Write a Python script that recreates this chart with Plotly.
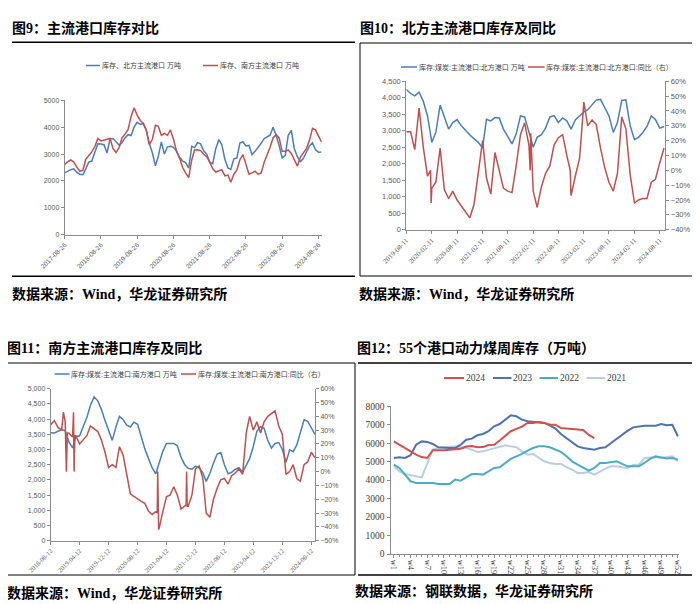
import pandas as pd
import plotly.graph_objects as go

# ---------------- data ----------------
# Fig 9: north / south mainstream port stocks (monthly samples from 2017-08-26)
c1_start = "2017-08-26"
c1_north = [2300, 2370, 2420, 2450, 2320, 2250, 2230, 2450, 2700, 2740,
            3040, 3380, 3370, 3350, 3040, 3560, 3580, 3440, 3330, 3420,
            3600, 3720, 3690, 4000, 4180, 4110, 4130, 3900, 3400, 3050,
            2560, 2920, 3450, 3000, 3270, 3290, 3250, 3100, 2880, 2740,
            2680, 2480, 3290, 3240, 3420, 3380, 3120, 3000, 2700, 2640,
            3200, 3540, 3350, 2800, 2480, 2430, 2820, 2850, 3410, 3460,
            3300, 3320, 2980, 3100, 3230, 3400, 3580, 3650, 3700, 4000,
            3700, 3320, 2860, 2950, 3700, 3880, 3200, 2900, 2720, 2830,
            3080, 3300, 3420, 3160, 3070, 3080]
c1_south = [2610, 2720, 2780, 2700, 2520, 2360, 2400, 2800, 2950, 3080,
            3280, 3580, 3490, 3530, 3540, 3580, 3200, 3060, 3250, 3600,
            3740, 3910, 4400, 4720, 4450, 4250, 4150, 3880, 3350, 3550,
            4070, 4030, 3700, 3770, 3700, 3900, 3550, 3100, 2850, 2500,
            2300, 2120, 2790, 3150, 3160, 3130, 3000, 2900, 2700, 2450,
            2330, 2370, 2420, 2190, 2220, 1950, 2250, 2400, 2790, 2980,
            2580, 2250, 2300, 2360, 2250, 2300, 2700, 2950, 3250, 3600,
            3720, 3600, 3100, 3100, 3150, 3020, 2800, 2550, 2900, 3050,
            3200, 3500, 3960, 3900, 3650, 3440]
c1_ticks = ["2017-08-26", "2018-08-26", "2019-08-26", "2020-08-26",
            "2021-08-26", "2022-08-26", "2023-08-26", "2024-08-26"]

# Fig 10: north ports stock and YoY (monthly samples from 2019-08-11)
c2_start = "2019-08-11"
c2_stock = [4250, 4130, 4060, 4170, 3900, 3450, 2650, 2950, 3780, 3400,
            3050, 3250, 3340, 3150, 3000, 2870, 2760, 2650, 2480, 3350,
            3300, 3400, 3390, 3050, 2830, 2600, 2900, 3450, 3420, 2980,
            2500, 2800, 2880, 3080, 3420, 3460, 3250, 3390, 3300, 3050,
            3330, 3450, 3570, 3640, 3780, 3930, 3950, 3680, 3450, 2950,
            3250, 3920, 3940, 3150, 2730, 2800, 2950, 3130, 3450, 3340,
            3080, 3130]
c2_yoy = [26, 26, 14, 42, 16, -4, -12, -8, 15, -13,
          -19, -14, -20, -24, -28, -32, -23, -3, 20, -5,
          -16, 12, -1, -12, -14, -15, 3, 24, 32, 17,
          -14, -25, -11, -2, 3, 17, 22, 24, 10, -17,
          -4, 8, 46, 30, 34, 31, 15, 2, -8, -14,
          -2, 36, 28, -3, -22, -20, -19, -19, -8, -6,
          5, 15]
# short-lived spikes in the weekly YoY series
c2_spike_dates = ["2020-02-02", "2020-02-06", "2022-01-20", "2022-01-24",
                  "2022-11-05", "2022-11-09"]
c2_spike_yoy = [0, -22, 0, 25, 0, -15]
c2_ticks = ["2019-08-11", "2020-02-11", "2020-08-11", "2021-02-11", "2021-08-11",
            "2022-02-11", "2022-08-11", "2023-02-11", "2023-08-11", "2024-02-11",
            "2024-08-11"]

# Fig 11: south ports stock and YoY (monthly samples from 2018-08-12)
c3_start = "2018-08-12"
c3_stock = [3550, 3540, 3600, 3650, 3620, 3250, 3050, 3420, 3450, 3750,
            4050, 4450, 4730, 4600, 4320, 3950, 3620, 3300, 3750, 4090,
            3980, 3800, 3740, 3900, 3830, 3380, 3020, 2700, 2400, 2200,
            2600, 2940, 3200, 3200, 3200, 3120, 2750, 2500, 2380, 2350,
            2450, 2400, 2230, 1950, 2220, 2550, 2850, 2900, 2500, 2200,
            2250, 2350, 2400, 2250, 2500, 2700, 3100, 3600, 3750, 3700,
            3300, 3050, 3200, 3230, 3000, 2580, 2990, 2930, 3150, 3560,
            3980, 3930, 3700, 3500]
c3_yoy = [34, 37, 32, 30, 36, 28, 25, 26, 20, 23,
          26, 33, 31, 29, 23, 14, 3, 5, 3, 18,
          12, -3, -16, -18, -20, -21.5, -23, -28.8, -31, -29,
          -40, -29, -18, -17, -11, -17, -27, -25, -25, -17,
          2, 4, -5, -30, -33, -20, -12, -6, -5, -9,
          -3, -1, 2, -2, 28, 40, 30, 36, 28, 36,
          40, 42, 44, 33, 27, -2, 0, 5, -5, -7,
          5, 7, 14, 10]
# short-lived spikes in the weekly YoY series
c3_spike_dates = ["2018-11-27", "2018-12-22", "2018-12-30", "2019-02-20",
                  "2019-02-25", "2019-03-03", "2021-01-24", "2021-01-28",
                  "2021-02-05", "2021-09-24", "2021-09-28", "2021-10-03"]
c3_spike_yoy = [43, 0, 28, 43, 0, 26, -30, 0, -42, -24, 0, -25]
c3_ticks = ["2018-08-12", "2019-04-12", "2019-12-12", "2020-08-12", "2021-04-12",
            "2021-12-12", "2022-08-12", "2023-04-12", "2023-12-12", "2024-08-12"]

# Fig 12: 55 ports thermal coal weekly stocks
c4_y2024 = [6100, 5920, 5740, 5560, 5380, 5250, 5200, 5620, 5600, 5620,
            5650, 5680, 5700, 5820, 5850, 5780, 5790, 5900, 5920, 6150,
            6400, 6650, 6780, 6900, 7100, 7100, 7150, 7100, 7000, 7000,
            6820, 6800, 6800, 6750, 6720, 6450, 6280]
c4_y2023 = [5200, 5240, 5200, 5350, 5920, 6100, 6070, 5960, 5780, 5740,
            5740, 5740, 5920, 6190, 6250, 6430, 6500, 6650, 6920, 7040,
            7280, 7510, 7460, 7280, 7190, 7150, 7130, 7100, 6970, 6790,
            6500, 6290, 6070, 5830, 5740, 5710, 5650, 5740, 5780, 6010,
            6250, 6470, 6680, 6860, 6920, 6950, 6950, 6950, 7040, 6970,
            7000, 6380]
c4_y2022 = [4840, 4660, 4300, 3940, 3850, 3850, 3830, 3850, 3790, 3790,
            3790, 4030, 3970, 4150, 4330, 4330, 4300, 4480, 4660, 4700,
            4930, 5150, 5290, 5420, 5600, 5740, 5830, 5830, 5780, 5650,
            5530, 5290, 5020, 4840, 4660, 4520, 4660, 4930, 4930, 4980,
            5020, 4880, 4750, 4750, 4750, 4930, 5150, 5290, 5240, 5170,
            5200, 5110]
c4_y2021 = [4750, 4480, 4330, 4260, 4210, 4150, 4900, 5650, 5740, 5780,
            5830, 5830, 5780, 5740, 5650, 5530, 5560, 5650, 5740, 5830,
            5890, 5830, 5780, 5560, 5380, 5420, 5200, 5020, 4930, 4880,
            4880, 4700, 4570, 4390, 4390, 4440, 4300, 4480, 4620, 4750,
            4750, 4700, 4660, 4840, 4840, 5200, 5240, 5240, 5200, 5240,
            5290, 5020]
c4_names = ["2024", "2023", "2022", "2021"]

# ---------------- styling ----------------
W, H = 700, 604
BLUE = "#4a7ebb"
RED = "#c0504d"
C4_COLORS = ["#d4504c", "#4e72b5", "#4bacc6", "#b9cde5"]
AXC = "#8c8c8c"
TXT = "#595959"
SANS = "Liberation Sans, Arial, Noto Sans CJK SC"
SERIF = "Liberation Serif, Times New Roman, Noto Sans CJK SC"


def px(x):
    return x / W


def py(y):
    return 1 - y / H


def mdates(start, n):
    return pd.date_range(start, periods=n, freq=pd.DateOffset(months=1))


def merged(start, vals, extra_dates, extra_vals):
    s = pd.Series(vals, index=mdates(start, len(vals)))
    e = pd.Series(extra_vals, index=pd.to_datetime(extra_dates))
    return pd.concat([s, e]).sort_index()


fig = go.Figure()

# chart 1
d1 = mdates(c1_start, len(c1_north))
fig.add_trace(go.Scatter(x=d1, y=c1_north, mode="lines", xaxis="x", yaxis="y",
                         line=dict(color=BLUE, width=1.5), showlegend=False,
                         name="库存、北方主流港口 万吨"))
fig.add_trace(go.Scatter(x=d1, y=c1_south, mode="lines", xaxis="x", yaxis="y",
                         line=dict(color=RED, width=1.5), showlegend=False,
                         name="库存、南方主流港口 万吨"))
# chart 2
d2 = mdates(c2_start, len(c2_stock))
s2 = merged(c2_start, c2_yoy, c2_spike_dates, c2_spike_yoy)
fig.add_trace(go.Scatter(x=d2, y=c2_stock, mode="lines", xaxis="x2", yaxis="y2",
                         line=dict(color=BLUE, width=1.5), showlegend=False))
fig.add_trace(go.Scatter(x=s2.index, y=s2.values, mode="lines", xaxis="x2", yaxis="y3",
                         line=dict(color=RED, width=1.5), showlegend=False))
# chart 3
d3 = mdates(c3_start, len(c3_stock))
s3 = merged(c3_start, c3_yoy, c3_spike_dates, c3_spike_yoy)
fig.add_trace(go.Scatter(x=d3, y=c3_stock, mode="lines", xaxis="x3", yaxis="y4",
                         line=dict(color=BLUE, width=1.5), showlegend=False))
fig.add_trace(go.Scatter(x=s3.index, y=s3.values, mode="lines", xaxis="x3", yaxis="y5",
                         line=dict(color=RED, width=1.5), showlegend=False))
# chart 4 (draw older years first so 2024 on top)
series4 = [c4_y2024, c4_y2023, c4_y2022, c4_y2021]
for name, vals, col in reversed(list(zip(c4_names, series4, C4_COLORS))):
    fig.add_trace(go.Scatter(x=list(range(1, len(vals) + 1)), y=vals, mode="lines",
                             xaxis="x4", yaxis="y6", name=name,
                             line=dict(color=col, width=2), showlegend=False))

ax_common = dict(showline=True, linecolor=AXC, linewidth=1, showgrid=False,
                 zeroline=False, ticks="outside", ticklen=3, tickcolor=AXC,
                 tickwidth=1, automargin=False)

layout = dict(
    width=W, height=H, autosize=False,
    margin=dict(l=0, r=0, t=0, b=0, pad=0),
    paper_bgcolor="white", plot_bgcolor="white",
    # chart 1
    xaxis=dict(domain=[px(56.7), px(313.6)], anchor="y", type="date",
               range=["2017-08-26", "2024-09-26"], tickmode="array",
               tickvals=c1_ticks, tickformat="%Y-%m-%d", tickangle=-45,
               tickfont=dict(family=SANS, size=6.5, color=TXT), **ax_common),
    yaxis=dict(domain=[py(226.7), py(92.3)], anchor="x", range=[0, 5000],
               dtick=1000, tickfont=dict(family=SANS, size=7, color=TXT), **ax_common),
    # chart 2
    xaxis2=dict(domain=[px(398.3), px(657.3)], anchor="y2", type="date",
                range=["2019-08-11", "2024-09-20"], tickmode="array",
                tickvals=c2_ticks, tickformat="%Y-%m-%d", tickangle=-45,
                tickfont=dict(family=SERIF, size=7, color=TXT), **ax_common),
    yaxis2=dict(domain=[py(221.7), py(73.3)], anchor="x2", range=[0, 4500],
                dtick=500, tickformat=",d",
                tickfont=dict(family=SANS, size=7.5, color=TXT), **ax_common),
    yaxis3=dict(overlaying="y2", side="right", anchor="x2", range=[-40, 60],
                dtick=10, ticksuffix="%",
                tickfont=dict(family=SANS, size=7.5, color=TXT), **ax_common),
    # chart 3
    xaxis3=dict(domain=[px(42.7), px(307)], anchor="y4", type="date",
                range=["2018-08-12", "2024-09-12"], tickmode="array",
                tickvals=c3_ticks, tickformat="%Y-%m-%d", tickangle=-45,
                tickfont=dict(family=SERIF, size=6.5, color=TXT), **ax_common),
    yaxis4=dict(domain=[py(532.7), py(380.7)], anchor="x3", range=[0, 5000],
                dtick=500, tickformat=",d",
                tickfont=dict(family=SANS, size=7, color=TXT), **ax_common),
    yaxis5=dict(overlaying="y4", side="right", anchor="x3", range=[-50, 60],
                dtick=10, ticksuffix="%",
                tickfont=dict(family=SANS, size=7, color=TXT), **ax_common),
    # chart 4
    xaxis4=dict(domain=[px(382.5), px(671)], anchor="y6", range=[0.4, 52.2],
                tickmode="linear", tick0=1, dtick=3, tickprefix="w", tickangle=90,
                minor=dict(ticks="outside", ticklen=2, dtick=1, tick0=1, tickcolor=AXC),
                tickfont=dict(family=SERIF, size=8.5, color="#404040"), **ax_common),
    yaxis6=dict(domain=[py(546), py(398.3)], anchor="x4", range=[0, 8000],
                dtick=1000, tickfont=dict(family=SERIF, size=9.5, color="#404040"),
                **ax_common),
)
fig.update_layout(**layout)

shapes = []
anns = []


def hline(x0, x1, y, w=1.2, col="black"):
    shapes.append(dict(type="line", xref="paper", yref="paper", x0=px(x0), x1=px(x1),
                       y0=py(y), y1=py(y), line=dict(color=col, width=w)))


def vline(x, y0, y1, w=1.0, col="black"):
    shapes.append(dict(type="line", xref="paper", yref="paper", x0=px(x), x1=px(x),
                       y0=py(y0), y1=py(y1), line=dict(color=col, width=w)))


def text(x, y, s, size, fam, col="black", anchor="left"):
    anns.append(dict(xref="paper", yref="paper", x=px(x), y=py(y), text=s,
                     showarrow=False, xanchor=anchor, yanchor="middle",
                     borderpad=0, borderwidth=0,
                     font=dict(size=size, family=fam, color=col)))


def legend_item(x0, x1, y, col, label, size, fam, lw=1.5, tcol="#404040"):
    hline(x0, x1, y, w=lw, col=col)
    text(x1 + 1.5, y, label, size, fam, tcol)


TITLE_FONT = SERIF

# chart 1 frame and texts
hline(4, 347, 34.3, w=1.5)
hline(4, 347, 268.3, w=1.5)
text(4, 20, "<b>图9：主流港口库存对比</b>", 14, TITLE_FONT)
text(4, 286, "<b>数据来源：Wind，华龙证券研究所</b>", 14, TITLE_FONT)
legend_item(78, 92, 57.5, BLUE, "库存、北方主流港口 万吨", 7, SANS)
legend_item(195, 210, 57.5, RED, "库存、南方主流港口 万吨", 7, SANS)

# chart 2 box and texts
hline(352, 700, 35, w=1)
hline(352, 700, 268, w=1)
vline(352, 35, 268, w=1)
text(352, 20, "<b>图10：北方主流港口库存及同比</b>", 14, TITLE_FONT)
text(351, 286, "<b>数据来源：Wind，华龙证券研究所</b>", 14, TITLE_FONT)
legend_item(393, 409, 59, BLUE, "库存:煤炭:主流港口:北方港口 万吨", 7, SANS)
legend_item(520, 536.5, 59, RED, "库存:煤炭:主流港口:北方港口:同比（右）", 7, SANS)

# chart 3 box and texts
hline(0, 347, 355, w=1)
hline(0, 347, 567, w=1)
vline(347, 355, 567, w=1)
text(-1, 340, "<b>图11：南方主流港口库存及同比</b>", 14, TITLE_FONT)
text(-1, 585, "<b>数据来源：Wind，华龙证券研究所</b>", 14, TITLE_FONT)
legend_item(46.5, 61.5, 366, BLUE, "库存:煤炭:主流港口:南方港口 万吨", 7, SANS)
legend_item(173, 188, 366, RED, "库存:煤炭:主流港口:南方港口:同比（右）", 7, SANS)

# chart 4 frame and texts
hline(350, 700, 355, w=1.5)
hline(350, 700, 567, w=1.5)
text(349, 340, "<b>图12：55个港口动力煤周库存（万吨）</b>", 14, TITLE_FONT)
text(347, 583, "<b>数据来源：钢联数据，华龙证券研究所</b>", 14, TITLE_FONT)
leg_x = [(436, 456), (485, 503.5), (531.5, 550), (578.5, 597)]
for (a, b), name, col in zip(leg_x, c4_names, C4_COLORS):
    legend_item(a, b, 370, col, name, 9.5, SERIF, lw=2, tcol="#404040")

fig.update_layout(shapes=shapes, annotations=anns)
fig.write_html("out.html")
